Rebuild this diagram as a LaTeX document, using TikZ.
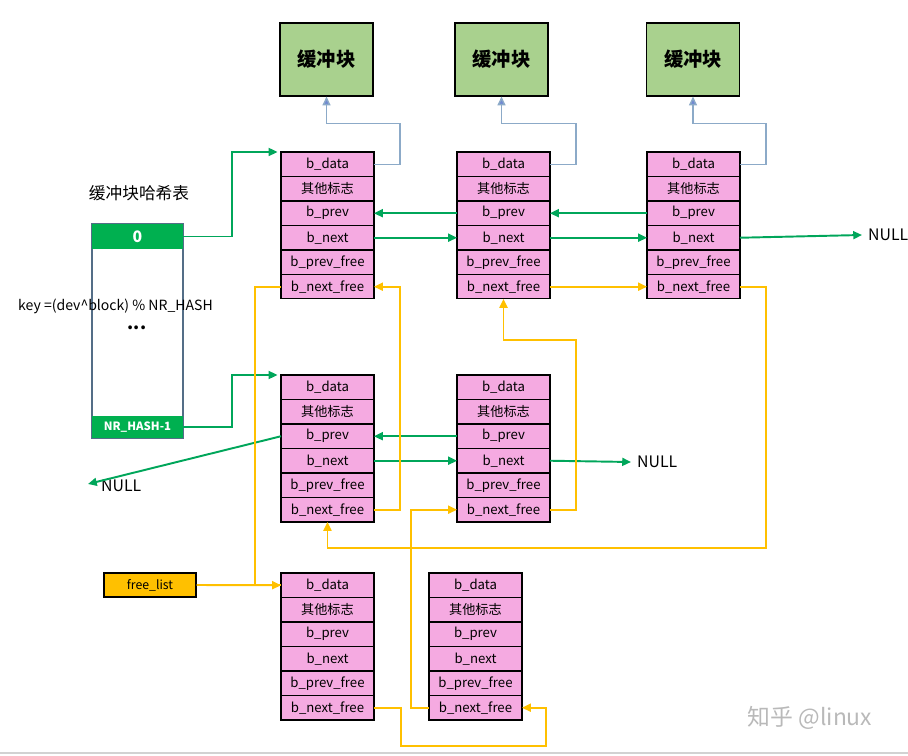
\documentclass[tikz,border=0pt]{standalone}
\usepackage{fontspec}
\setmainfont{Noto Sans CJK SC}
\usetikzlibrary{positioning,arrows.meta}
\definecolor{cellpink}{RGB}{245,170,225}
\definecolor{blkgreen}{RGB}{169,209,142}
\definecolor{hashgreen}{RGB}{0,176,80}
\definecolor{ptrgreen}{RGB}{0,166,90}
\definecolor{freeorange}{RGB}{255,192,0}
\definecolor{datablue}{RGB}{140,170,200}
\definecolor{tabline}{RGB}{84,110,135}
\tikzset{
  cell/.style={draw, fill=cellpink, line width=0.6pt, minimum width=1.86cm, minimum height=0.49cm,
    inner sep=0pt, outer sep=0pt, font=\fontsize{7.5}{8}\selectfont},
  blk/.style={draw, fill=blkgreen, line width=0.6pt, minimum width=1.86cm, minimum height=1.46cm,
    font=\fontsize{11}{12}\selectfont\bfseries},
  gptr/.style={draw=ptrgreen, line width=1.1pt, -{Triangle[length=5pt,width=4.5pt]}},
  fptr/.style={draw=freeorange, line width=1.1pt, -{Triangle[length=5pt,width=4.5pt]}},
  dptr/.style={draw=datablue, line width=0.8pt, -{Triangle[length=5pt,width=4.5pt,fill=datablue!80!blue]}},
  nulltxt/.style={font=\fontsize{9}{10}\selectfont}
}
% one buffer head: name, top-left corner
\def\bufhead(#1)(#2,#3){%
  \node[cell, anchor=north west] (#1-1) at (#2,#3) {b\_data};
  \node[cell, below=0pt of #1-1] (#1-2) {其他标志};
  \node[cell, below=0pt of #1-2] (#1-3) {b\_prev};
  \node[cell, below=0pt of #1-3] (#1-4) {b\_next};
  \node[cell, below=0pt of #1-4] (#1-5) {b\_prev\_free};
  \node[cell, below=0pt of #1-5] (#1-6) {b\_next\_free};
}
\begin{document}
\begin{tikzpicture}[x=0.02cm, y=-0.02cm]
  \useasboundingbox (0,0) rectangle (908,756);

  % buffer blocks
  \node[blk] (blk1) at (326.5,59.5) {缓冲块};
  \node[blk] (blk2) at (501.5,59.5) {缓冲块};
  \node[blk] (blk3) at (693,59.5) {缓冲块};

  % buffer heads
  \bufhead(A)(281,152)
  \bufhead(B)(457,152)
  \bufhead(C)(647,152)
  \bufhead(D)(281,375)
  \bufhead(E)(457,375)
  \bufhead(F)(281,573)
  \bufhead(G)(429,573)

  % hash table
  \node[font=\fontsize{9.5}{10}\selectfont] (htitle) at (139,193) {缓冲块哈希表};
  \node[draw=tabline, line width=0.6pt, minimum width=1.82cm, minimum height=4.28cm, inner sep=0pt] (htab) at (137.5,331) {};
  \node[fill=hashgreen, minimum width=1.82cm, minimum height=0.5cm, inner sep=0pt, text=white,
    font=\fontsize{9}{10}\selectfont\bfseries] (hash0) at (137.5,236.5) {0};
  \node[fill=hashgreen, minimum width=1.82cm, minimum height=0.44cm, inner sep=0pt, text=white,
    font=\fontsize{6.5}{7}\selectfont\bfseries] (hashN) at (137.5,427) {NR\_HASH-1};
  \node[font=\fontsize{8}{9}\selectfont] (hkey) at (115.5,306) {key =(dev\^{}block) \% NR\_HASH};
  \node[font=\fontsize{10}{10}\selectfont\bfseries] (hdots) at (137,328) {...};

  % free list head
  \node[draw, fill=freeorange, line width=0.6pt, minimum width=1.84cm, minimum height=0.48cm, inner sep=0pt,
    font=\fontsize{7}{8}\selectfont] (flist) at (150,585) {free\_list};

  % NULL ends
  \node[nulltxt, anchor=west] (nullC) at (862,235) {NULL};
  \node[nulltxt, anchor=west] (nullE) at (631,462) {NULL};
  \node[nulltxt, anchor=west] (nullD) at (95,486) {NULL};
  \coordinate (nullDtip) at (88,484);

  % data pointers
  \draw[dptr] (A-1.east) -- ++(26,0) -- ++(0,-41) -| (blk1.south);
  \draw[dptr] (B-1.east) -- ++(26,0) -- ++(0,-41) -| (blk2.south);
  \draw[dptr] (C-1.east) -- ++(26,0) -- ++(0,-41) -| (blk3.south);

  % hash chains
  \draw[gptr] (hash0.east) -- ++(49,0) |- ([xshift=-2pt]A-1.north west);
  \draw[gptr] (hashN.east) -- ++(49,0) |- ([xshift=-2pt]D-1.north west);
  \draw[gptr] (B-3.west) -- (A-3.east);
  \draw[gptr] (A-4.east) -- (B-4.west);
  \draw[gptr] (C-3.west) -- (B-3.east);
  \draw[gptr] (B-4.east) -- (C-4.west);
  \draw[gptr] (C-4.east) -- (nullC.west);
  \draw[gptr] (E-3.west) -- (D-3.east);
  \draw[gptr] (D-4.east) -- (E-4.west);
  \draw[gptr] (E-4.east) -- (nullE.west);
  \draw[gptr] (D-3.west) -- (nullDtip);

  % free list
  \draw[fptr] (flist.east) -- (F-1.west);
  \draw[draw=freeorange, line width=1.1pt] (A-6.west) -- ++(-26,0) |- (F-1.west);
  \draw[fptr] (D-6.east) -- ++(26,0) |- (A-6.east);
  \draw[fptr] (B-6.east) -- (C-6.west);
  \draw[fptr] (E-6.east) -- ++(26,0) -- ++(0,-170) -| (B-6.south);
  \draw[fptr] (C-6.east) -- ++(26,0) -- ++(0,261) -| (D-6.south);
  \draw[fptr] (G-6.west) -- ++(-18,0) |- (E-6.west);
  \draw[fptr] (F-6.east) -- ++(27,0) -- ++(0,38) -- ++(145,0) |- (G-6.east);

  % page edge and watermark
  \draw[gray!35, line width=0.8pt] (0,753) -- (908,753);
  \node[text=gray!55, font=\fontsize{13}{14}\selectfont] (wmark) at (810,718) {知乎 @linux};
\end{tikzpicture}
\end{document}
